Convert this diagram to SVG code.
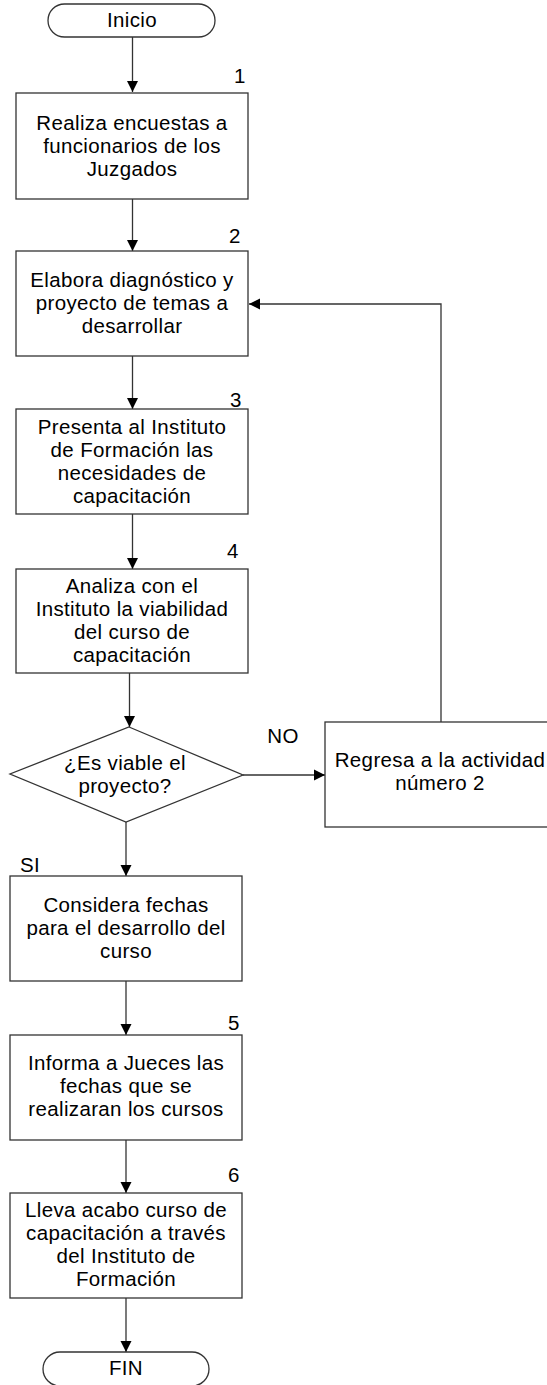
<svg xmlns="http://www.w3.org/2000/svg" width="547" height="1385" viewBox="0 0 547 1385">
<defs>
<marker id="ah" markerWidth="12" markerHeight="12" refX="11" refY="6" orient="auto" markerUnits="userSpaceOnUse">
<path d="M0,0.5 L11,6 L0,11.5 Z" fill="#000"/>
</marker>
<style>
.s{fill:#fff;stroke:#333;stroke-width:1.3}
.c{fill:none;stroke:#333;stroke-width:1.3;marker-end:url(#ah)}
text{font-family:"Liberation Sans",Arial,sans-serif;font-size:20.5px;letter-spacing:0.35px;fill:#000}
.m{text-anchor:middle}
</style>
</defs>
<rect width="547" height="1385" fill="#fff"/>
<g id="connectors">
<line class="c" x1="132.5" y1="37" x2="132.5" y2="92"/>
<line class="c" x1="132.5" y1="199" x2="132.5" y2="251"/>
<line class="c" x1="132.5" y1="356" x2="132.5" y2="409"/>
<line class="c" x1="132.5" y1="514" x2="132.5" y2="569"/>
<line class="c" x1="129.5" y1="673" x2="129.5" y2="727"/>
<line class="c" x1="243" y1="775" x2="325" y2="775"/>
<polyline class="c" points="441,722 441,304 249,304"/>
<line class="c" x1="126" y1="822" x2="126" y2="876"/>
<line class="c" x1="126" y1="981" x2="126" y2="1035"/>
<line class="c" x1="126" y1="1140" x2="126" y2="1193"/>
<line class="c" x1="126" y1="1298" x2="126" y2="1352"/>
<text x="283" y="743" class="m">NO</text>
<text x="20" y="872">SI</text>
</g>
<g id="inicio">
<rect class="s" x="48" y="4" width="167" height="33" rx="16.5"/>
<text x="132" y="27" class="m">Inicio</text>
</g>
<g id="n1">
<rect class="s" x="16" y="93" width="232" height="106"/>
<text x="240" y="83" class="m">1</text>
<text class="m"><tspan x="132" y="130">Realiza encuestas a</tspan><tspan x="132" y="153">funcionarios de los</tspan><tspan x="132" y="176">Juzgados</tspan></text>
</g>
<g id="n2">
<rect class="s" x="16" y="251" width="232" height="105"/>
<text x="235" y="243" class="m">2</text>
<text class="m"><tspan x="132" y="287">Elabora diagnóstico y</tspan><tspan x="132" y="310">proyecto de temas a</tspan><tspan x="132" y="333">desarrollar</tspan></text>
</g>
<g id="n3">
<rect class="s" x="16" y="409" width="232" height="105"/>
<text x="236" y="407" class="m">3</text>
<text class="m"><tspan x="132" y="434">Presenta al Instituto</tspan><tspan x="132" y="457">de Formación las</tspan><tspan x="132" y="480">necesidades de</tspan><tspan x="132" y="503">capacitación</tspan></text>
</g>
<g id="n4">
<rect class="s" x="16" y="569" width="232" height="104"/>
<text x="233" y="558" class="m">4</text>
<text class="m"><tspan x="132" y="593">Analiza con el</tspan><tspan x="132" y="616">Instituto la viabilidad</tspan><tspan x="132" y="639">del curso de</tspan><tspan x="132" y="662">capacitación</tspan></text>
</g>
<g id="decision">
<polygon class="s" points="129,727 243,775 126,822 10,774"/>
<text class="m"><tspan x="125" y="770">¿Es viable el</tspan><tspan x="125" y="793">proyecto?</tspan></text>
</g>
<g id="regresa">
<rect class="s" x="325" y="722" width="240" height="105"/>
<text class="m"><tspan x="440" y="767">Regresa a la actividad</tspan><tspan x="440" y="790">número 2</tspan></text>
</g>
<g id="considera">
<rect class="s" x="10" y="876" width="232" height="105"/>
<text class="m"><tspan x="126" y="912">Considera fechas</tspan><tspan x="126" y="935">para el desarrollo del</tspan><tspan x="126" y="958">curso</tspan></text>
</g>
<g id="n5">
<rect class="s" x="10" y="1035" width="232" height="105"/>
<text x="234" y="1030" class="m">5</text>
<text class="m"><tspan x="126" y="1070">Informa a Jueces las</tspan><tspan x="126" y="1093">fechas que se</tspan><tspan x="126" y="1116">realizaran los cursos</tspan></text>
</g>
<g id="n6">
<rect class="s" x="10" y="1193" width="232" height="105"/>
<text x="234" y="1182" class="m">6</text>
<text class="m"><tspan x="126" y="1217">Lleva acabo curso de</tspan><tspan x="126" y="1240">capacitación a través</tspan><tspan x="126" y="1263">del Instituto de</tspan><tspan x="126" y="1286">Formación</tspan></text>
</g>
<g id="fin">
<rect class="s" x="43" y="1352" width="166" height="34" rx="17"/>
<text x="126" y="1375" class="m">FIN</text>
</g>
</svg>
